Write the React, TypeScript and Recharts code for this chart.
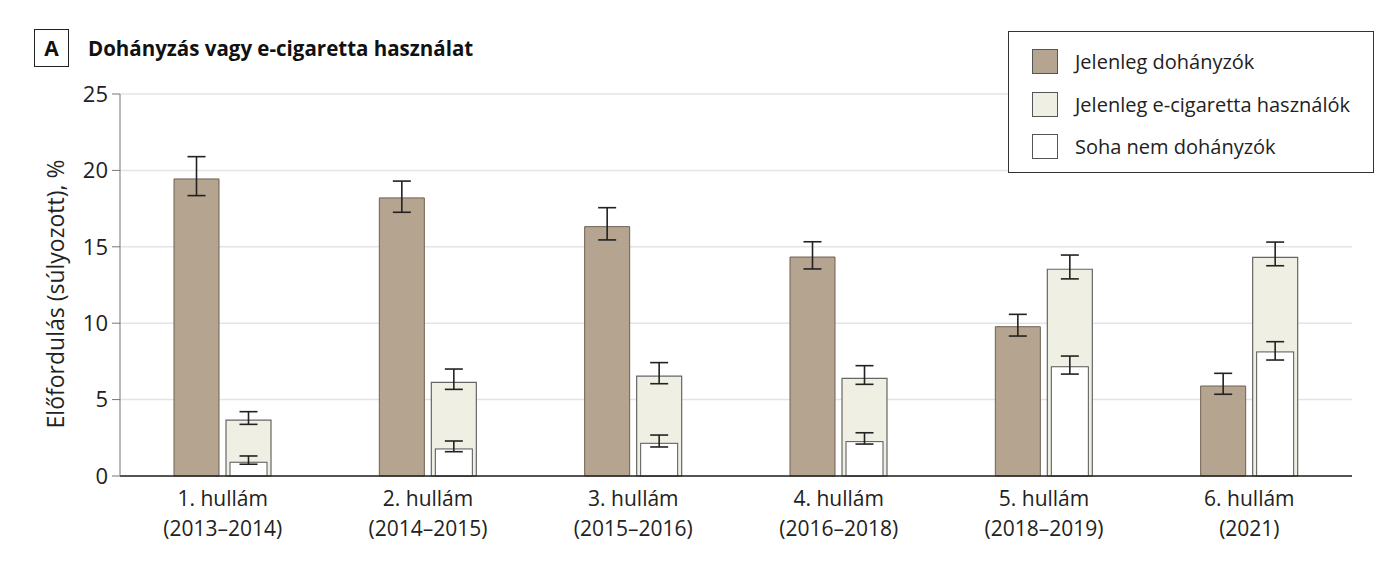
import React from "react";
import { BarChart, Bar, XAxis, YAxis, CartesianGrid, ErrorBar } from "recharts";

const waves = ["1. hullám", "2. hullám", "3. hullám", "4. hullám", "5. hullám", "6. hullám"];
const periods = ["(2013–2014)", "(2014–2015)", "(2015–2016)", "(2016–2018)", "(2018–2019)", "(2021)"];

const smokers = [19.44, 18.2, 16.32, 14.33, 9.77, 5.89];
const smokersLow = [18.35, 17.26, 15.45, 13.55, 9.16, 5.35];
const smokersHigh = [20.9, 19.3, 17.56, 15.33, 10.58, 6.72];

const ecig = [3.66, 6.13, 6.54, 6.39, 13.53, 14.31];
const ecigLow = [3.38, 5.67, 6.04, 6.0, 12.9, 13.76];
const ecigHigh = [4.21, 7.0, 7.42, 7.22, 14.46, 15.31];

const never = [0.9, 1.77, 2.14, 2.25, 7.15, 8.12];
const neverLow = [0.77, 1.59, 1.9, 2.09, 6.67, 7.59];
const neverHigh = [1.31, 2.29, 2.68, 2.83, 7.85, 8.79];

const yTicks = [0, 5, 10, 15, 20, 25];

const data = waves.map((w, i) => ({
  wave: w,
  period: periods[i],
  smokers: smokers[i],
  smokersErr: [smokers[i] - smokersLow[i], smokersHigh[i] - smokers[i]],
  ecig: ecig[i],
  ecigErr: [ecig[i] - ecigLow[i], ecigHigh[i] - ecig[i]],
  never: never[i],
  neverErr: [never[i] - neverLow[i], neverHigh[i] - never[i]],
}));

const FONT = "'Open Sans', 'Noto Sans', sans-serif";
const SMOKER = "#b5a48f";
const ECIG = "#f0efe4";

const WaveTick = (props: any) => {
  const { x, y, payload, index } = props;
  return (
    <g transform={`translate(${x},${y})`}>
      <text textAnchor="middle" fontFamily={FONT} fontSize={21} fill="#222">
        <tspan x={0} dy={22}>{payload.value}</tspan>
        <tspan x={0} dy={30}>{periods[index]}</tspan>
      </text>
    </g>
  );
};

const InsetBar = (props: any) => {
  const { x, y, width, height } = props;
  if (!height) return null;
  return (
    <rect x={x + 4} y={y} width={width - 8} height={height} fill="#ffffff" stroke="#555" strokeWidth={1} />
  );
};

const legendItems = [
  { label: "Jelenleg dohányzók", fill: SMOKER },
  { label: "Jelenleg e-cigaretta használók", fill: ECIG },
  { label: "Soha nem dohányzók", fill: "#ffffff" },
];

export default function App() {
  return (
    <div style={{ position: "relative", width: 1386, height: 587, background: "#fff", fontFamily: FONT, margin: -8 }}>
      <div
        style={{
          position: "absolute", left: 34, top: 29, width: 33, height: 36, border: "1.5px solid #222",
          fontWeight: 700, fontSize: 21, lineHeight: "36px", textAlign: "center", color: "#111",
        }}
      >
        A
      </div>
      <div style={{ position: "absolute", left: 88, top: 34, fontWeight: 700, fontSize: 20.5, color: "#111" }}>
        Dohányzás vagy e-cigaretta használat
      </div>
      <div
        style={{
          position: "absolute", left: 55, top: 294, transform: "translate(-50%,-50%) rotate(-90deg)",
          whiteSpace: "nowrap", fontSize: 23, color: "#222",
        }}
      >
        Előfordulás (súlyozott), %
      </div>
      <BarChart
        width={1386}
        height={587}
        data={data}
        margin={{ top: 94, right: 34, bottom: 0, left: 0 }}
        barGap={7}
      >
        <CartesianGrid horizontal vertical={false} stroke="#e4e4e8" strokeWidth={1.5} />
        <XAxis
          dataKey="wave"
          xAxisId="a"
          tick={<WaveTick />}
          tickLine={false}
          axisLine={{ stroke: "#222", strokeWidth: 1.5 }}
          interval={0}
          height={111}
        />
        <XAxis dataKey="wave" xAxisId="b" hide />
        <YAxis
          domain={[0, 25]}
          ticks={yTicks}
          width={120}
          tickSize={8}
          tickMargin={4}
          axisLine={{ stroke: "#777" }}
          tickLine={{ stroke: "#777" }}
          tick={{ fontSize: 22, fill: "#222", fontFamily: FONT }}
        />
        <Bar xAxisId="a" dataKey="smokers" barSize={45} fill={SMOKER} stroke="#6e6052" strokeWidth={1} isAnimationActive={false}>
          <ErrorBar dataKey="smokersErr" direction="y" width={9} stroke="#222" strokeWidth={1.6} />
        </Bar>
        <Bar xAxisId="a" dataKey="ecig" barSize={45} fill={ECIG} stroke="#666" strokeWidth={1.2} isAnimationActive={false}>
          <ErrorBar dataKey="ecigErr" direction="y" width={9} stroke="#222" strokeWidth={1.6} />
        </Bar>
        <Bar xAxisId="b" dataKey="smokers" barSize={45} fill="none" stroke="none" isAnimationActive={false} />
        <Bar xAxisId="b" dataKey="never" barSize={45} shape={<InsetBar />} isAnimationActive={false}>
          <ErrorBar dataKey="neverErr" direction="y" width={9} stroke="#222" strokeWidth={1.6} />
        </Bar>
      </BarChart>
      <div
        style={{
          position: "absolute", left: 1008, top: 31, width: 366, height: 142, border: "1.3px solid #333",
          background: "#fff", boxSizing: "border-box",
        }}
      >
        {legendItems.map((it, i) => (
          <div key={it.label} style={{ position: "absolute", left: 23, top: 16 + i * 42.5, display: "flex", alignItems: "center" }}>
            <div style={{ width: 26, height: 25, background: it.fill, border: "1.3px solid #555", boxSizing: "border-box" }} />
            <span style={{ marginLeft: 17, fontSize: 20, color: "#222", whiteSpace: "nowrap" }}>{it.label}</span>
          </div>
        ))}
      </div>
    </div>
  );
}
